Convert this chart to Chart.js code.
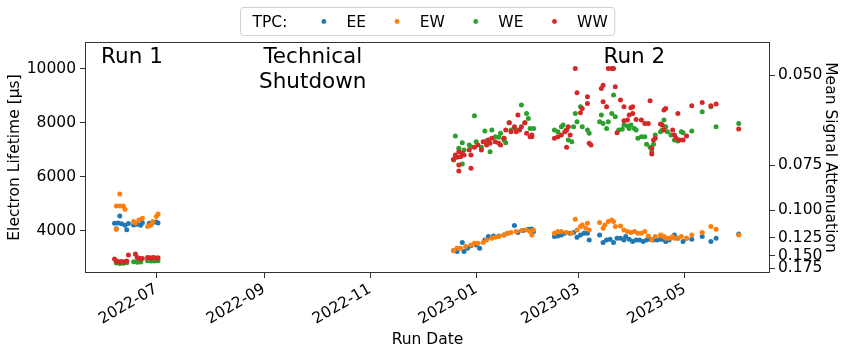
<!DOCTYPE html>
<html>
<head>
<meta charset="utf-8">
<script src="https://cdn.jsdelivr.net/npm/chart.js@4/dist/chart.umd.min.js"></script>
<style>
  html, body { margin: 0; padding: 0; background: #fff; }
  #wrap { width: 847px; height: 355px; position: relative; }
</style>
</head>
<body>
<div id="wrap"><canvas id="chart"></canvas></div>
<script>
// Series: [run date, electron lifetime in us]
const EE = [
  ['2022-06-07', 4270], ['2022-06-08', 4070], ['2022-06-09', 4280], ['2022-06-10', 4540], ['2022-06-11', 4250],
  ['2022-06-13', 4200], ['2022-06-14', 4030], ['2022-06-15', 4260], ['2022-06-18', 4210], ['2022-06-20', 4230],
  ['2022-06-22', 4200], ['2022-06-23', 4290], ['2022-06-27', 4270], ['2022-06-29', 4300], ['2022-07-01', 4320],
  ['2022-07-02', 4280],
  ['2022-12-19', 3261], ['2022-12-21', 3224], ['2022-12-24', 3557], ['2022-12-25', 3224], ['2022-12-27', 3347],
  ['2022-12-29', 3434], ['2023-01-01', 3470], ['2023-01-03', 3347], ['2023-01-06', 3655], ['2023-01-08', 3779],
  ['2023-01-11', 3804], ['2023-01-14', 3804], ['2023-01-17', 3841], ['2023-01-19', 3902], ['2023-01-23', 4186],
  ['2023-01-25', 3927], ['2023-01-28', 4001], ['2023-01-31', 4051], ['2023-02-02', 4063], ['2023-02-03', 3964],
  ['2023-02-15', 3779], ['2023-02-17', 3804], ['2023-02-19', 3841], ['2023-02-21', 3902], ['2023-02-24', 3902],
  ['2023-02-26', 3927], ['2023-02-28', 3754], ['2023-03-02', 3841], ['2023-03-04', 3902], ['2023-03-06', 3902],
  ['2023-03-07', 3655], ['2023-03-13', 3841], ['2023-03-15', 3557], ['2023-03-17', 3655], ['2023-03-19', 3680],
  ['2023-03-21', 3557], ['2023-03-23', 3717], ['2023-03-25', 3717], ['2023-03-27', 3655], ['2023-03-28', 3779],
  ['2023-03-30', 3680], ['2023-04-01', 3594], ['2023-04-03', 3655], ['2023-04-05', 3655], ['2023-04-07', 3594],
  ['2023-04-09', 3655], ['2023-04-11', 3680], ['2023-04-13', 3655], ['2023-04-15', 3655], ['2023-04-17', 3680],
  ['2023-04-18', 3680], ['2023-04-20', 3594], ['2023-04-22', 3655], ['2023-04-25', 3841], ['2023-04-27', 3717],
  ['2023-04-30', 3594], ['2023-05-02', 3717], ['2023-05-05', 3680], ['2023-05-11', 3779], ['2023-05-16', 3594],
  ['2023-05-19', 3717], ['2023-06-01', 3877]
];
const EW = [
  ['2022-06-08', 4913], ['2022-06-08', 4050], ['2022-06-10', 5356], ['2022-06-10', 4913], ['2022-06-12', 4913],
  ['2022-06-13', 4790], ['2022-06-18', 4333], ['2022-06-19', 4280], ['2022-06-21', 4395], ['2022-06-23', 4458],
  ['2022-06-26', 4150], ['2022-06-27', 4185], ['2022-06-28', 4210], ['2022-06-29', 4333], ['2022-07-01', 4517],
  ['2022-07-02', 4617],
  ['2022-12-19', 3261], ['2022-12-21', 3347], ['2022-12-23', 3347], ['2022-12-26', 3409], ['2022-12-29', 3470],
  ['2022-12-31', 3532], ['2023-01-02', 3532], ['2023-01-05', 3557], ['2023-01-07', 3655], ['2023-01-10', 3717],
  ['2023-01-12', 3754], ['2023-01-14', 3779], ['2023-01-17', 3841], ['2023-01-19', 3902], ['2023-01-21', 3927],
  ['2023-01-24', 3964], ['2023-01-27', 4001], ['2023-01-30', 4026], ['2023-02-01', 3964], ['2023-02-02', 3841],
  ['2023-02-03', 4026], ['2023-02-15', 3902], ['2023-02-17', 3964], ['2023-02-19', 3964], ['2023-02-22', 3927],
  ['2023-02-25', 3902], ['2023-02-27', 4420], ['2023-02-28', 4026], ['2023-03-02', 4149], ['2023-03-03', 4211],
  ['2023-03-05', 4088], ['2023-03-06', 4272], ['2023-03-07', 4026], ['2023-03-13', 4297], ['2023-03-15', 4088],
  ['2023-03-16', 4211], ['2023-03-18', 4334], ['2023-03-20', 4395], ['2023-03-21', 4334], ['2023-03-22', 4149],
  ['2023-03-25', 4174], ['2023-03-27', 4026], ['2023-03-29', 3964], ['2023-03-31', 3927], ['2023-04-02', 3964],
  ['2023-04-04', 3902], ['2023-04-06', 3902], ['2023-04-08', 3964], ['2023-04-10', 3804], ['2023-04-12', 3655],
  ['2023-04-14', 3779], ['2023-04-17', 3841], ['2023-04-18', 3804], ['2023-04-19', 3779], ['2023-04-20', 3717],
  ['2023-04-22', 3717], ['2023-04-24', 3779], ['2023-04-25', 3717], ['2023-04-27', 3717], ['2023-04-29', 3779],
  ['2023-05-02', 3717], ['2023-05-05', 3841], ['2023-05-11', 3927], ['2023-05-16', 4149], ['2023-05-19', 4051],
  ['2023-06-01', 3841]
];
const WE = [
  ['2022-06-08', 2800], ['2022-06-10', 2780], ['2022-06-12', 2790], ['2022-06-14', 2810], ['2022-06-18', 2850],
  ['2022-06-20', 2830], ['2022-06-22', 2840], ['2022-06-26', 2880], ['2022-06-28', 2870], ['2022-06-30', 2870],
  ['2022-07-02', 2880],
  ['2022-12-19', 6612], ['2022-12-20', 7500], ['2022-12-22', 7044], ['2022-12-24', 7253], ['2022-12-24', 6464],
  ['2022-12-25', 6982], ['2022-12-28', 7167], ['2022-12-29', 7105], ['2022-12-31', 8251], ['2023-01-01', 7290],
  ['2023-01-04', 7081], ['2023-01-06', 7684], ['2023-01-07', 7327], ['2023-01-09', 6921], ['2023-01-10', 7721],
  ['2023-01-12', 7475], ['2023-01-14', 7450], ['2023-01-15', 7598], ['2023-01-17', 7414], ['2023-01-17', 7352],
  ['2023-01-18', 7253], ['2023-01-20', 7992], ['2023-01-21', 7721], ['2023-01-23', 7783], ['2023-01-25', 7721],
  ['2023-01-27', 8645], ['2023-01-29', 7992], ['2023-01-30', 8337], ['2023-01-31', 8152], ['2023-02-01', 7783],
  ['2023-02-03', 7783], ['2023-02-15', 7721], ['2023-02-17', 7660], ['2023-02-19', 7845], ['2023-02-20', 7906],
  ['2023-02-22', 7721], ['2023-02-23', 7352], ['2023-02-25', 7290], ['2023-02-26', 7845], ['2023-02-27', 8337],
  ['2023-02-28', 8029], ['2023-03-02', 8584], ['2023-03-03', 7845], ['2023-03-06', 7721], ['2023-03-07', 7598],
  ['2023-03-13', 8029], ['2023-03-14', 8275], ['2023-03-15', 7968], ['2023-03-17', 7783], ['2023-03-18', 8029],
  ['2023-03-20', 8337], ['2023-03-21', 9014], ['2023-03-22', 8214], ['2023-03-24', 7721], ['2023-03-26', 7746],
  ['2023-03-27', 7906], ['2023-03-29', 7869], ['2023-03-30', 7783], ['2023-03-31', 7906], ['2023-04-02', 7783],
  ['2023-04-03', 7721], ['2023-04-04', 7414], ['2023-04-06', 7475], ['2023-04-08', 7475], ['2023-04-09', 7192],
  ['2023-04-11', 7081], ['2023-04-12', 6921], ['2023-04-13', 7192], ['2023-04-14', 7537], ['2023-04-17', 7660],
  ['2023-04-18', 7721], ['2023-04-19', 8091], ['2023-04-20', 7845], ['2023-04-21', 7660], ['2023-04-23', 7537],
  ['2023-04-25', 7352], ['2023-04-27', 7315], ['2023-04-29', 7660], ['2023-04-30', 7623], ['2023-05-05', 7684],
  ['2023-05-11', 8399], ['2023-05-16', 8584], ['2023-05-19', 7845], ['2023-06-01', 7968]
];
const WW = [
  ['2022-06-07', 2950], ['2022-06-08', 2870], ['2022-06-09', 2850], ['2022-06-10', 2840], ['2022-06-11', 2860],
  ['2022-06-12', 2830], ['2022-06-13', 2850], ['2022-06-14', 2870], ['2022-06-15', 3100], ['2022-06-19', 3130],
  ['2022-06-20', 3000], ['2022-06-21', 2980], ['2022-06-22', 2960], ['2022-06-23', 2970], ['2022-06-26', 3000],
  ['2022-06-27', 2990], ['2022-06-28', 2980], ['2022-06-29', 3000], ['2022-06-30', 2990], ['2022-07-01', 2980],
  ['2022-07-02', 2990],
  ['2022-12-19', 6636], ['2022-12-20', 6796], ['2022-12-21', 6710], ['2022-12-22', 6427], ['2022-12-22', 6205],
  ['2022-12-22', 6921], ['2022-12-23', 6735], ['2022-12-24', 6859], ['2022-12-25', 6796], ['2022-12-28', 6982],
  ['2022-12-29', 6304], ['2022-12-29', 6796], ['2022-12-31', 7081], ['2023-01-02', 7167], ['2023-01-04', 6982],
  ['2023-01-05', 7290], ['2023-01-07', 7167], ['2023-01-08', 7352], ['2023-01-09', 7229], ['2023-01-10', 7414],
  ['2023-01-12', 7290], ['2023-01-14', 7229], ['2023-01-15', 7167], ['2023-01-17', 7414], ['2023-01-18', 7721],
  ['2023-01-20', 7992], ['2023-01-21', 7660], ['2023-01-23', 7845], ['2023-01-24', 7660], ['2023-01-25', 8275],
  ['2023-01-26', 7721], ['2023-01-27', 7845], ['2023-01-29', 7992], ['2023-01-30', 7598], ['2023-02-01', 7475],
  ['2023-02-02', 7475], ['2023-02-02', 7537], ['2023-02-15', 7414], ['2023-02-17', 7475], ['2023-02-19', 7537],
  ['2023-02-21', 7660], ['2023-02-22', 7721], ['2023-02-22', 7081], ['2023-02-23', 7845], ['2023-02-24', 7537],
  ['2023-02-27', 10000], ['2023-02-28', 9100], ['2023-03-02', 8361], ['2023-03-03', 8522], ['2023-03-06', 8953],
  ['2023-03-06', 8707], ['2023-03-07', 7229], ['2023-03-08', 7167], ['2023-03-14', 9260], ['2023-03-15', 9383],
  ['2023-03-15', 8768], ['2023-03-17', 8584], ['2023-03-18', 10000], ['2023-03-20', 10000], ['2023-03-21', 10000],
  ['2023-03-22', 9322], ['2023-03-23', 7623], ['2023-03-25', 8830], ['2023-03-27', 8584], ['2023-03-27', 8066],
  ['2023-03-29', 8091], ['2023-03-30', 8275], ['2023-03-31', 8547], ['2023-04-01', 8584], ['2023-04-01', 8337],
  ['2023-04-03', 8115], ['2023-04-06', 8091], ['2023-04-08', 7968], ['2023-04-10', 7968], ['2023-04-11', 8805],
  ['2023-04-12', 7044], ['2023-04-12', 6835], ['2023-04-13', 7352], ['2023-04-14', 7414], ['2023-04-17', 7943],
  ['2023-04-18', 7906], ['2023-04-19', 8460], ['2023-04-19', 7721], ['2023-04-20', 8522], ['2023-04-24', 7721],
  ['2023-04-25', 7537], ['2023-04-26', 7414], ['2023-04-27', 8337], ['2023-04-28', 7352], ['2023-04-30', 7352],
  ['2023-05-02', 7500], ['2023-05-05', 8621], ['2023-05-11', 8744], ['2023-05-16', 8621], ['2023-05-19', 8682],
  ['2023-06-01', 7758]
];

const seriesNames = ['EE', 'EW', 'WE', 'WW'];
const seriesData = [EE, EW, WE, WW];
const seriesColors = ['#1f77b4', '#ff7f0e', '#2ca02c', '#d62728'];

// Axes
const xTickLabels = ['2022-07', '2022-09', '2022-11', '2023-01', '2023-03', '2023-05'];
const xRange = ['2022-05-21', '2023-06-19'];
const yTicks = [4000, 6000, 8000, 10000];
const yRange = [2430, 10980];
const attenuationTicks = [0.050, 0.075, 0.100, 0.125, 0.150, 0.175];
const DRIFT_TIME = 500; // us, maps lifetime to mean attenuation

// Text annotations
const noteLines = [['Run 1'], ['Technical', 'Shutdown'], ['Run 2']];
const noteDates = ['2022-06-17', '2022-09-29', '2023-04-02'];
const NOTE_VALUE = 10200;

const FONT = 'DejaVu Sans';
const FS = 15.5;

Chart.defaults.font.family = FONT;
Chart.defaults.font.size = FS;
Chart.defaults.color = '#000';

const toTime = d => Date.parse(d);
const lifetimeFor = a => -DRIFT_TIME / Math.log(1 - a);

const framePlugin = {
  id: 'frame',
  afterDatasetsDraw(chart) {
    const { ctx, chartArea: a } = chart;
    ctx.save();
    ctx.strokeStyle = '#333';
    ctx.lineWidth = 1;
    ctx.strokeRect(Math.round(a.left) + 0.5, Math.round(a.top) + 0.5,
      Math.round(a.right - a.left) - 1, Math.round(a.bottom - a.top) - 1);
    ctx.restore();
  }
};

const notesPlugin = {
  id: 'notes',
  afterDraw(chart) {
    const { ctx, scales } = chart;
    ctx.save();
    ctx.font = `21.5px "${FONT}"`;
    ctx.fillStyle = '#000';
    ctx.textAlign = 'center';
    ctx.textBaseline = 'alphabetic';
    noteLines.forEach((lines, i) => {
      const x = scales.x.getPixelForValue(toTime(noteDates[i]));
      const y = scales.y.getPixelForValue(NOTE_VALUE);
      lines.forEach((t, j) => ctx.fillText(t, x, y + j * 25));
    });
    ctx.restore();
  }
};

const legendPlugin = {
  id: 'boxLegend',
  afterDraw(chart) {
    const { ctx, chartArea: a } = chart;
    ctx.save();
    ctx.font = `${FS}px "${FONT}"`;
    // layout first, to get total width
    const items = [];
    let x = 12;
    items.push({ text: 'TPC:', tx: x });
    x += ctx.measureText('TPC:').width + 36.5;
    seriesNames.forEach((n, i) => {
      const dot = x;
      const tx = dot + 22.6;
      items.push({ text: n, tx, dot, color: seriesColors[i] });
      x = tx + ctx.measureText(n).width + 31;
    });
    const width = x - 31 + 7;
    const left = Math.round((a.left + a.right) / 2 - width / 2) + 0.5;
    const top = 7.5, h = 28, cy = top + h / 2;
    ctx.beginPath();
    ctx.roundRect(left, top, width, h, 3);
    ctx.fillStyle = '#fff';
    ctx.fill();
    ctx.strokeStyle = '#d0d0d0';
    ctx.lineWidth = 1;
    ctx.stroke();
    ctx.textBaseline = 'middle';
    ctx.textAlign = 'left';
    items.forEach(it => {
      if (it.dot !== undefined) {
        ctx.beginPath();
        ctx.arc(left + it.dot, cy, 2.4, 0, Math.PI * 2);
        ctx.fillStyle = it.color;
        ctx.fill();
      }
      ctx.fillStyle = '#000';
      ctx.fillText(it.text, left + it.tx, cy + 1);
    });
    ctx.restore();
  }
};

const tickGrid = { display: true, drawOnChartArea: false, tickLength: 5, tickColor: '#333', tickWidth: 1 };

new Chart(document.getElementById('chart'), {
  type: 'scatter',
  data: {
    datasets: seriesData.map((s, i) => ({
      label: seriesNames[i],
      data: s.map(([d, v]) => ({ x: toTime(d), y: v })),
      backgroundColor: seriesColors[i],
      borderColor: seriesColors[i],
      borderWidth: 0,
      pointRadius: 2.5,
      order: seriesNames.length - i
    }))
  },
  options: {
    responsive: true,
    maintainAspectRatio: false,
    animation: false,
    layout: { padding: { top: 42, left: 0, right: 0, bottom: 0 } },
    plugins: { legend: { display: false }, tooltip: { enabled: false } },
    scales: {
      x: {
        type: 'linear',
        min: toTime(xRange[0]),
        max: toTime(xRange[1]),
        grid: tickGrid,
        border: { display: false },
        afterBuildTicks: s => { s.ticks = xTickLabels.map(l => ({ value: toTime(l + '-01') })); },
        afterFit: s => { s.height = 82; },
        ticks: {
          autoSkip: false, minRotation: 30, maxRotation: 30, padding: 2,
          callback: (v, i) => xTickLabels[i]
        },
        title: { display: true, text: 'Run Date', padding: { top: 0, bottom: 6 } }
      },
      y: {
        type: 'linear',
        position: 'left',
        min: yRange[0],
        max: yRange[1],
        grid: tickGrid,
        border: { display: false },
        afterBuildTicks: s => { s.ticks = yTicks.map(v => ({ value: v })); },
        afterFit: s => { s.width = 85; },
        ticks: { padding: 4, callback: v => String(v) },
        title: { display: true, text: 'Electron Lifetime [μs]', padding: { top: 6, bottom: 0 } }
      },
      y2: {
        type: 'linear',
        position: 'right',
        min: yRange[0],
        max: yRange[1],
        grid: tickGrid,
        border: { display: false },
        afterBuildTicks: s => { s.ticks = attenuationTicks.map(a => ({ value: lifetimeFor(a) })); },
        afterFit: s => { s.width = 77; },
        ticks: { autoSkip: false, padding: 3, callback: (v, i) => attenuationTicks[i].toFixed(3) },
        title: { display: true, text: 'Mean Signal Attenuation', padding: { top: 8, bottom: 0 } }
      }
    }
  },
  plugins: [framePlugin, notesPlugin, legendPlugin]
});
</script>
</body>
</html>
